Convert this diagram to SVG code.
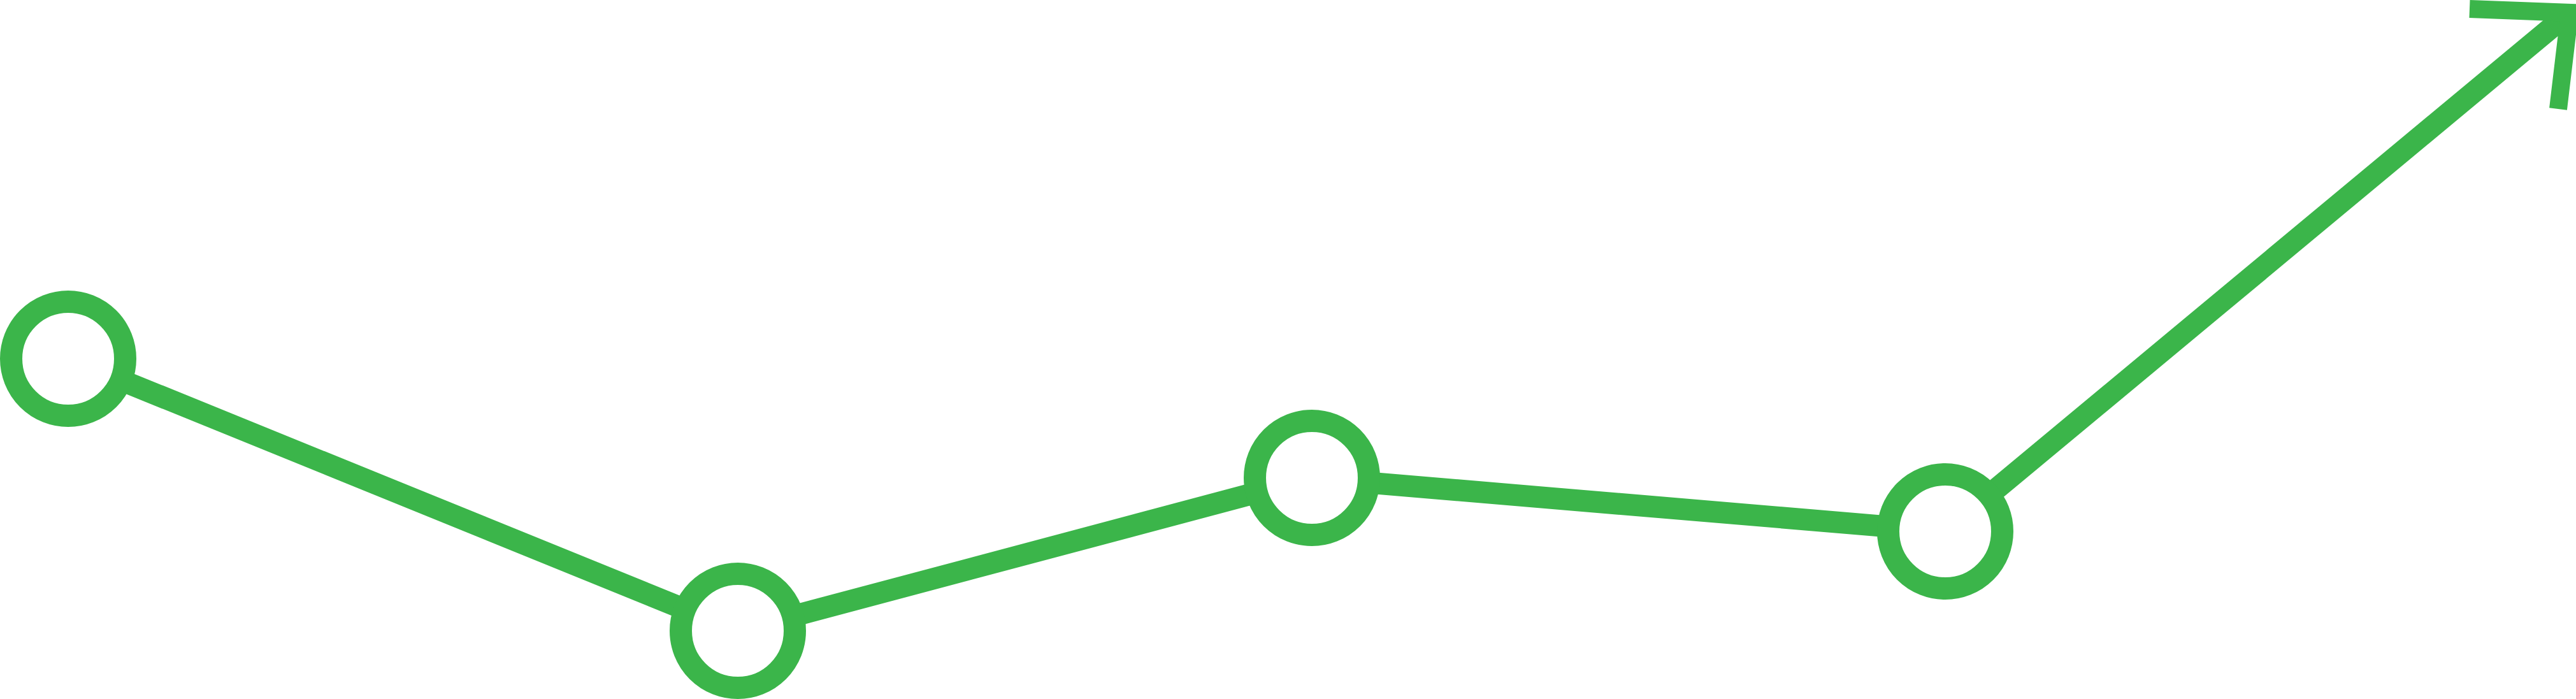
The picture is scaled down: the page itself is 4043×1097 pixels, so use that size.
<svg xmlns="http://www.w3.org/2000/svg" width="4043" height="1097" viewBox="0 0 4043 1097">
  <style>
    .conn { fill: none; stroke: #3BB54A; stroke-width: 34; stroke-linecap: butt; stroke-linejoin: miter; }
    .head { fill: none; stroke: #3BB54A; stroke-width: 28; stroke-linecap: butt; stroke-linejoin: miter; stroke-miterlimit: 10; }
    .node { fill: #FFFFFF; stroke: #3BB54A; stroke-width: 35; }
  </style>
  <rect width="4043" height="1097" fill="#FFFFFF"/>
  <g id="connectors">
    <line class="conn" x1="107" y1="563" x2="1158" y2="990"/>
    <line class="conn" x1="1158" y1="990" x2="2059" y2="750"/>
    <line class="conn" x1="2059" y1="750" x2="3053" y2="834"/>
    <line class="conn" x1="3053" y1="834" x2="4030" y2="22"/>
    <polyline class="head" points="3876,14 4033,20 4015,171"/>
  </g>
  <g id="node1"><circle class="node" cx="107" cy="563" r="89.5"/></g>
  <g id="node2"><circle class="node" cx="1158" cy="990" r="89.5"/></g>
  <g id="node3"><circle class="node" cx="2059" cy="750" r="89.5"/></g>
  <g id="node4"><circle class="node" cx="3053" cy="834" r="89.5"/></g>
</svg>
